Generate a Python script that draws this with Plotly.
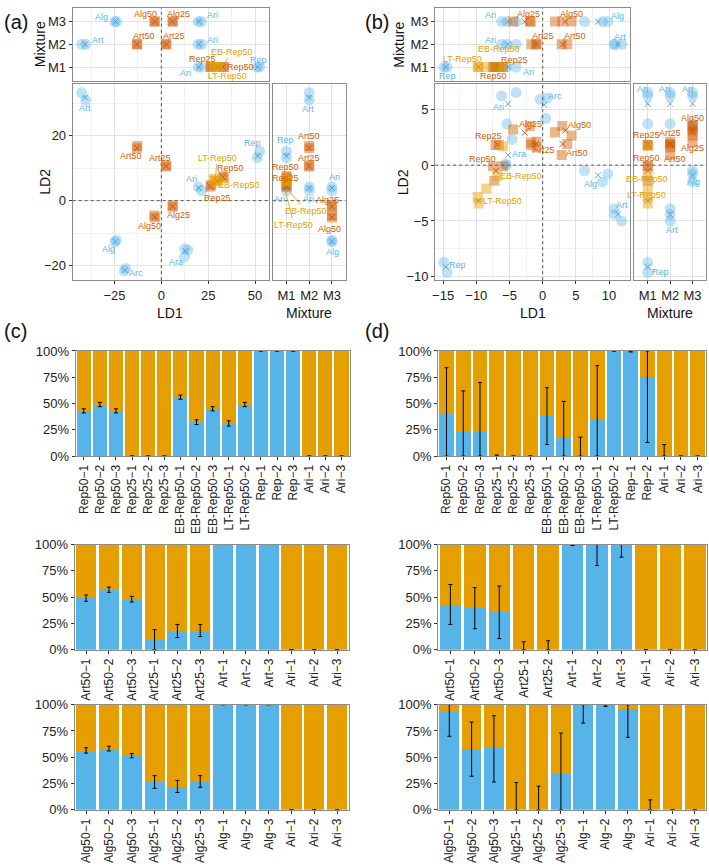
import plotly.graph_objects as go

W, H = 709, 866

# ---------------- Panel (a): canonical discriminant scores ----------------
A_GROUP = ["Art", "Rep", "Ari", "Alg", "Arc", "Ara", "Art50", "Art25", "Alg50", "Alg25",
           "Rep50", "Rep25", "LT-Rep50", "EB-Rep50"]
A_KIND = ["ref", "ref", "ref", "ref", "ref", "ref", "mix", "mix", "mix", "mix", "mix", "mix", "trt", "trt"]
A_MIX = [["M2"], ["M1"], ["M1", "M2", "M3"], ["M3"], [], [], ["M2"], ["M2"], ["M3"], ["M3"],
         ["M1"], ["M1"], ["M1"], ["M1"]]
A_LD1 = [[-42.5, -40.3], [52.5, 51.2], [19.7, 21.4], [-23.9, -24.8], [-19.0, -19.8], [12.4, 14.2, 12.4],
         [-12.8, -13.1], [2.7, 2.4], [-3.4, -3.8], [5.9, 6.2], [32.8, 33.5], [26.2, 26.5], [28.0, 28.5], [29.8, 30.2]]
A_LD2 = [[33.2, 30.9], [15.2, 13.2], [4.2, 3.1], [-12.2, -12.7], [-20.9, -21.6], [-14.8, -15.2, -17.3],
         [16.8, 16.1], [10.5, 10.8], [-5.2, -4.6], [-1.9, -1.5], [7.5, 7.2], [4.3, 4.8], [6.7, 6.2], [6.2, 5.8]]
A_CX = [-40.6, 51.4, 20.0, -24.5, -19.5, 12.8, -13.0, 2.6, -3.5, 6.0, 32.8, 26.2, 28.2, 30.0]
A_CY = [31.7, 13.7, 3.9, -12.6, -21.4, -15.5, 16.2, 10.6, -5.1, -1.8, 7.3, 4.4, 6.5, 6.0]

# ---------------- Panel (b) ----------------
B_GROUP = ["Ari", "Arc", "Ara", "Rep", "Alg", "Art", "Rep25", "Rep50", "EB-Rep50", "LT-Rep50",
           "Alg25", "Art25", "Alg50", "Art50"]
B_KIND = ["ref", "ref", "ref", "ref", "ref", "ref", "mix", "mix", "trt", "trt", "mix", "mix", "mix", "mix"]
B_MIX = [["M1", "M2", "M3"], [], [], ["M1"], ["M3"], ["M2"], ["M1"], ["M1"], ["M1"], ["M1"],
         ["M3"], ["M2"], ["M3"], ["M2"]]
B_LD1 = [[-6.2, -4.0, -5.4], [-0.4, 0.7, 0.45], [-4.6, -5.6, -5.5], [-14.9, -14.4], [6.3, 9.8, 9.0],
         [10.8, 10.8, 11.9], [-7.1, -6.6], [-7.5, -6.0, -7.3], [-8.5, -6.0, -6.8], [-9.8, -9.65],
         [-4.45, -1.95, -1.8], [-0.95, -1.7, -0.95], [2.95, 1.85, 4.35], [3.7, 2.85]]
B_LD2 = [[6.2, 6.5, 3.7], [5.9, 6.0, 4.2], [2.3, 0.1, 0.0], [-8.7, -9.6], [-0.5, -0.8, -1.5],
         [-3.9, -4.4, -5.0], [1.8, 1.8], [-0.1, -0.1, -1.4], [-2.1, 1.7, -1.0], [-2.85, -3.44],
         [3.2, 3.5, 2.0], [2.1, 1.8, 1.6], [3.5, 2.95, 2.65], [1.9, 0.9]]
B_CX = [-5.2, 0.2, -5.2, -14.6, 8.35, 11.35, -6.8, -7.0, -7.1, -9.7, -2.7, -1.0, 3.4, 3.0]
B_CY = [5.5, 5.4, 0.9, -9.1, -0.9, -4.4, 1.85, -0.5, -0.5, -3.2, 2.9, 1.9, 3.1, 1.9]

# ---------------- point labels (text, x, y, kind[, arrow target x, y]) ----------------
A_MAIN_LAB = [("Art", -40.6, 28.6, "ref"), ("Rep", 48.4, 17.8, "ref"), ("Ari", 16.0, 6.7, "ref"),
              ("Alg", -28.2, -15.0, "ref"), ("Arc", -13.7, -22.3, "ref"), ("Ara", 8.0, -18.8, "ref"),
              ("Art50", -16.3, 13.7, "mix"), ("Art25", -0.9, 13.1, "mix"), ("Alg25", 9.4, -4.5, "mix"),
              ("Alg50", -6.5, -7.8, "mix"), ("Rep50", 36.9, 10.0, "mix"), ("Rep25", 30.0, 0.8, "mix"),
              ("LT-Rep50", 29.8, 13.2, "trt", 28.9, 7.1), ("EB-Rep50", 41.5, 4.7, "trt")]
A_TOP_LAB = [("Alg", -31.9, 3.2, "ref"), ("Alg50", -8.3, 3.34, "mix"), ("Alg25", 9.4, 3.34, "mix"),
             ("Ari", 27.1, 3.27, "ref"), ("Art", -33.7, 2.21, "ref"), ("Art50", -9.2, 2.38, "mix"),
             ("Art25", 6.7, 2.38, "mix"), ("Ari", 27.1, 2.21, "ref"), ("Rep25", 21.8, 1.37, "mix"),
             ("EB-Rep50", 37.8, 1.68, "trt", 33.9, 1.2), ("Rep50", 42.0, 0.99, "mix"),
             ("Rep", 52.0, 1.3, "ref"), ("LT-Rep50", 35.1, 0.6, "trt"), ("Ari", 12.9, 0.76, "ref")]
A_SIDE_LAB = [("Rep", 0.96, 18.6, "ref"), ("Rep50", 0.96, 10.3, "mix"), ("Rep25", 0.96, 7.0, "mix"),
              ("Ari", 0.71, 0.4, "ref"), ("EB-Rep50", 1.84, -3.2, "trt", 1.05, 3.5),
              ("LT-Rep50", 1.33, -7.4, "trt", 0.93, 3.5), ("Art", 1.95, 28.1, "ref"),
              ("Art50", 2.0, 19.8, "mix"), ("Art25", 2.0, 13.0, "mix"), ("Ari", 1.96, 0.4, "ref"),
              ("Ari", 3.13, 7.2, "ref"), ("Alg25", 2.8, 0.3, "mix"), ("Alg50", 2.91, -8.7, "mix"),
              ("Alg", 3.03, -15.8, "ref")]
B_MAIN_LAB = [("Arc", 1.8, 6.2, "ref"), ("Ari", -6.6, 5.2, "ref"), ("Alg25", -1.9, 3.7, "mix"),
              ("Alg50", 5.6, 3.6, "mix"), ("Rep25", -8.1, 2.65, "mix"), ("Art25", 0.2, 1.35, "mix"),
              ("Art50", 5.2, 1.06, "mix"), ("Ara", -3.6, 0.97, "ref"), ("Rep50", -9.0, 0.53, "mix"),
              ("EB-Rep50", -3.2, -1.0, "trt"), ("Alg", 7.2, -1.7, "ref"), ("LT-Rep50", -6.0, -3.2, "trt"),
              ("Art", 11.95, -3.6, "ref"), ("Rep", -12.9, -8.95, "ref")]
B_TOP_LAB = [("Ari", -7.9, 3.3, "ref"), ("Alg25", -2.15, 3.34, "mix"), ("Alg50", 4.35, 3.34, "mix"),
             ("Alg", 11.2, 3.23, "ref"), ("Ari", -7.9, 2.21, "ref"), ("Art25", 0.05, 2.35, "mix"),
             ("Art50", 4.8, 2.35, "mix"), ("Art", 11.6, 2.32, "ref"), ("LT-Rep50", -12.1, 1.37, "trt"),
             ("EB-Rep50", -6.6, 1.8, "trt"), ("Rep25", -4.3, 1.3, "mix", -6.9, 1.12),
             ("Rep50", -7.45, 0.6, "mix"), ("Ari", -2.15, 0.8, "ref"), ("Rep", -14.3, 0.6, "ref")]
B_SIDE_LAB = [("Ari", 0.75, 6.86, "ref"), ("Ari", 1.73, 6.86, "ref"), ("Ari", 2.76, 6.86, "ref"),
              ("Alg50", 3.0, 4.2, "mix"), ("Rep25", 0.96, 2.74, "mix"), ("Art25", 2.01, 2.9, "mix"),
              ("Alg25", 3.0, 1.56, "mix"), ("Rep50", 0.96, 0.68, "mix"), ("Art50", 2.2, 0.53, "mix"),
              ("EB-Rep50", 0.96, -1.24, "trt"), ("Alg", 3.04, -1.53, "ref"),
              ("LT-Rep50", 0.96, -2.7, "trt"), ("Art", 2.06, -5.8, "ref"), ("Rep", 1.59, -9.56, "ref")]

# ---------------- Panels (c) and (d): assignment proportions (%) ----------------
C1_LAB = ["Rep50−1", "Rep50−2", "Rep50−3", "Rep25−1", "Rep25−2", "Rep25−3", "EB-Rep50−1", "EB-Rep50−2",
          "EB-Rep50−3", "LT-Rep50−1", "LT-Rep50−2", "Rep−1", "Rep−2", "Rep−3", "Ari−1", "Ari−2", "Ari−3"]
C1_BLUE = [43, 49, 43, 0, 0, 0, 56, 32, 45, 31, 49, 100, 100, 100, 0, 0, 0]
C1_LO = [41, 47, 41, 0, 0, 0, 54, 30, 43, 28.5, 47, 100, 100, 100, 0, 0, 0]
C1_HI = [45, 51, 45, 0, 0, 0, 58, 34.5, 47, 33.5, 51, 100, 100, 100, 0, 0, 0]

D1_LAB = ["Rep50−1", "Rep50−2", "Rep50−3", "Rep25−1", "Rep25−2", "Rep25−3", "EB-Rep50−1", "EB-Rep50−2",
          "EB-Rep50−3", "LT-Rep50−1", "LT-Rep50−2", "Rep−1", "Rep−2", "Ari−1", "Ari−2", "Ari−3"]
D1_BLUE = [40, 23, 23, 0, 0, 0, 38, 17, 0, 35, 100, 100, 75, 0, 0, 0]
D1_LO = [0, 0, 0, 0, 0, 0, 11, 0, 0, 0, 100, 99, 13, 0, 0, 0]
D1_HI = [84, 62, 70, 1, 0, 0, 65, 52, 18, 86, 100, 100, 100, 11, 0, 0]

C2_LAB = ["Art50−1", "Art50−2", "Art50−3", "Art25−1", "Art25−2", "Art25−3", "Art−1", "Art−2", "Art−3",
          "Ari−1", "Ari−2", "Ari−3"]
C2_BLUE = [49, 57, 48, 9, 17.5, 18, 100, 100, 100, 0, 0, 0]
C2_LO = [46, 54.5, 45.3, 0, 11.5, 12.5, 100, 100, 100, 0, 0, 0]
C2_HI = [52, 59.5, 50.7, 19, 24, 24, 100, 100, 100, 0, 0, 0]

D2_LAB = ["Art50−1", "Art50−2", "Art50−3", "Art25-1", "Art25-2", "Art−1", "Art−2", "Art−3",
          "Ari−1", "Ari−2", "Ari−3"]
D2_BLUE = [42.5, 39.5, 35.5, 0, 0, 100, 100, 100, 0, 0, 0]
D2_LO = [24, 20, 10.5, 0, 0, 99, 80, 88, 0, 0, 0]
D2_HI = [62, 59, 60.5, 7.5, 8.5, 100, 100, 100, 0, 0, 0]

C3_LAB = ["Alg50−1", "Alg50−2", "Alg50−3", "Alg25−1", "Alg25−2", "Alg25−3", "Alg−1", "Alg−2", "Alg−3",
          "Ari−1", "Ari−2", "Ari−3"]
C3_BLUE = [56, 58, 51, 26.5, 22, 26.5, 100, 100, 100, 0, 0, 0]
C3_LO = [54, 56, 49.5, 20.5, 16.5, 21.5, 100, 100, 100, 0, 0, 0]
C3_HI = [59, 60.5, 53.5, 32.5, 28, 32.5, 100, 100, 100, 0, 0, 0]

D3_LAB = C3_LAB
D3_BLUE = [93, 57.5, 58.5, 0, 0, 34, 100, 100, 96, 0, 0, 0]
D3_LO = [70, 32, 26.5, 0, 0, 0, 82.5, 98.5, 69, 0, 0, 0]
D3_HI = [100, 83.5, 89.5, 26, 22.5, 73, 100, 100, 100, 9.5, 0, 0]

MIX_NAMES = ["M1", "M2", "M3"]
PCT_TICKS = [0, 25, 50, 75, 100]

# ---------------- styling ----------------
FONT = "Liberation Sans, Arial, Helvetica, sans-serif"
BLUE = "#56B4E9"
VERM = "#D55E00"
YEL = "#E69F00"
BAR_BLUE = "#56B4E9"
BAR_ORANGE = "#E69F00"
BORDER = "#8c8c8c"
GRID = "#e3e3e3"
MINOR = "#f1f1f1"
FILL = {"ref": "rgba(86,180,233,0.38)", "mix": "rgba(213,94,0,0.45)", "trt": "rgba(230,159,0,0.45)"}
XCOL = {"ref": "#4a9fd6", "mix": "#b9561a", "trt": "#c98a00"}
TCOL = {"ref": BLUE, "mix": VERM, "trt": YEL}
SYM = {"ref": "circle", "mix": "square", "trt": "square"}
SIZE = {"ref": 11, "mix": 10, "trt": 10}
MIXV = {m: i + 1 for i, m in enumerate(MIX_NAMES)}

# pixel boxes for each subplot: (x0, x1), (y0, y1) from top
BOX = {
    1: ((70, 267), (78, 278)), 2: ((70, 267), (1, 75)), 3: ((271, 344), (78, 278)),
    4: ((434, 630), (78, 278)), 5: ((434, 630), (1, 75)), 6: ((634, 706), (78, 278)),
    7: ((73, 348), (350, 457)), 8: ((437, 706), (350, 457)),
    9: ((72, 347), (547, 654)), 10: ((437, 707), (547, 654)),
    11: ((72, 347), (710, 817)), 12: ((437, 706), (710, 817)),
}


def xr(i):
    return "x" if i == 1 else f"x{i}"


def yr(i):
    return "y" if i == 1 else f"y{i}"


def xkey(i):
    return "xaxis" if i == 1 else f"xaxis{i}"


def ykey(i):
    return "yaxis" if i == 1 else f"yaxis{i}"


fig = go.Figure()
layout = dict(width=W, height=H, autosize=False, margin=dict(l=0, r=0, t=0, b=0),
              paper_bgcolor="white", plot_bgcolor="white", showlegend=False,
              barmode="stack", font=dict(family=FONT, color="#222"))


def base_axis(i, is_x, **kw):
    (x0, x1), (y0, y1) = BOX[i]
    dom = [x0 / W, x1 / W] if is_x else [1 - y1 / H, 1 - y0 / H]
    d = dict(domain=dom, anchor=(yr(i) if is_x else xr(i)), showline=True, mirror=True,
             linecolor=BORDER, linewidth=1, ticks="outside", ticklen=3, tickcolor="#333",
             tickwidth=1, zeroline=False, showgrid=False, fixedrange=True,
             tickfont=dict(size=13, color="#222", family=FONT))
    d.update(kw)
    return d


def grid_lin(rng, dtick, minor_dtick, labels=True):
    return dict(range=rng, tick0=0, dtick=dtick, showgrid=True, gridcolor=GRID, gridwidth=1,
                minor=dict(showgrid=True, gridcolor=MINOR, dtick=minor_dtick, tick0=0),
                showticklabels=labels, ticks="outside" if labels else "")


def grid_cat(labels=True):
    return dict(range=[0.4, 3.6], tickvals=[1, 2, 3], ticktext=MIX_NAMES, showgrid=True,
                gridcolor=GRID, showticklabels=labels, ticks="outside" if labels else "")


def add_cda(im, it, isd, kinds, mixes, ld1, ld2, cx, cy):
    for k, m, l1, l2, x0, y0 in zip(kinds, mixes, ld1, ld2, cx, cy):
        pts = dict(mode="markers", hoverinfo="skip",
                   marker=dict(symbol=SYM[k], size=SIZE[k], color=FILL[k], line=dict(width=0)))
        cen = dict(mode="markers", hoverinfo="skip",
                   marker=dict(symbol="x-thin", size=6, color=XCOL[k], line=dict(width=0.9, color=XCOL[k])))
        fig.add_trace(go.Scatter(x=l1, y=l2, xaxis=xr(im), yaxis=yr(im), **pts))
        fig.add_trace(go.Scatter(x=[x0], y=[y0], xaxis=xr(im), yaxis=yr(im), **cen))
        for mm in m:
            v = MIXV[mm]
            fig.add_trace(go.Scatter(x=l1, y=[v] * len(l1), xaxis=xr(it), yaxis=yr(it), **pts))
            fig.add_trace(go.Scatter(x=[x0], y=[v], xaxis=xr(it), yaxis=yr(it), **cen))
            fig.add_trace(go.Scatter(x=[v] * len(l2), y=l2, xaxis=xr(isd), yaxis=yr(isd), **pts))
            fig.add_trace(go.Scatter(x=[v], y=[y0], xaxis=xr(isd), yaxis=yr(isd), **cen))


def add_labels(i, labs):
    for lab in labs:
        text, x, y, k = lab[:4]
        f = dict(size=9, color=TCOL[k], family=FONT)
        if len(lab) > 4:
            fig.add_annotation(x=lab[4], y=lab[5], ax=x, ay=y, axref=xr(i), ayref=yr(i),
                               xref=xr(i), yref=yr(i), text=text, showarrow=True, arrowhead=0,
                               arrowwidth=0.8, arrowcolor=TCOL[k], standoff=0, font=f)
        else:
            fig.add_annotation(x=x, y=y, xref=xr(i), yref=yr(i), text=text, showarrow=False, font=f)


def dotted(i, vertical, val):
    ln = dict(color="#555", width=1, dash="dot")
    if vertical:
        fig.add_shape(type="line", xref=xr(i), yref=f"{yr(i)} domain", x0=val, x1=val, y0=0, y1=1,
                      line=ln, layer="above")
    else:
        fig.add_shape(type="line", xref=f"{xr(i)} domain", yref=yr(i), x0=0, x1=1, y0=val, y1=val,
                      line=ln, layer="above")


# ----- panel (a)
A_XR = [-47.3, 57.4]
A_YR = [-24.5, 36.0]
layout[xkey(1)] = base_axis(1, True, **grid_lin(A_XR, 25, 12.5))
layout[ykey(1)] = base_axis(1, False, **grid_lin(A_YR, 20, 10))
layout[xkey(2)] = base_axis(2, True, **grid_lin(A_XR, 25, 12.5, labels=False))
layout[ykey(2)] = base_axis(2, False, **grid_cat())
layout[xkey(3)] = base_axis(3, True, **grid_cat())
layout[ykey(3)] = base_axis(3, False, **grid_lin(A_YR, 20, 10, labels=False))
add_cda(1, 2, 3, A_KIND, A_MIX, A_LD1, A_LD2, A_CX, A_CY)

# ----- panel (b)
B_XR = [-16.2, 13.2]
B_YR = [-10.3, 7.3]
layout[xkey(4)] = base_axis(4, True, **grid_lin(B_XR, 5, 2.5))
layout[ykey(4)] = base_axis(4, False, **grid_lin(B_YR, 5, 2.5))
layout[xkey(5)] = base_axis(5, True, **grid_lin(B_XR, 5, 2.5, labels=False))
layout[ykey(5)] = base_axis(5, False, **grid_cat())
layout[xkey(6)] = base_axis(6, True, **grid_cat())
layout[ykey(6)] = base_axis(6, False, **grid_lin(B_YR, 5, 2.5, labels=False))
add_cda(4, 5, 6, B_KIND, B_MIX, B_LD1, B_LD2, B_CX, B_CY)

for i in (1, 4):
    dotted(i, True, 0)
    dotted(i, False, 0)
for i in (2, 5):
    dotted(i, True, 0)
for i in (3, 6):
    dotted(i, False, 0)

add_labels(1, A_MAIN_LAB)
add_labels(2, A_TOP_LAB)
add_labels(3, A_SIDE_LAB)
add_labels(4, B_MAIN_LAB)
add_labels(5, B_TOP_LAB)
add_labels(6, B_SIDE_LAB)


# ----- bar panels
def add_bars(i, labels, blue, lo, hi):
    xs = list(range(1, len(labels) + 1))
    fig.add_trace(go.Bar(x=xs, y=blue, width=0.88, marker=dict(color=BAR_BLUE, line=dict(width=0)),
                         xaxis=xr(i), yaxis=yr(i), hoverinfo="skip"))
    fig.add_trace(go.Bar(x=xs, y=[100 - b for b in blue], width=0.88,
                         marker=dict(color=BAR_ORANGE, line=dict(width=0)),
                         xaxis=xr(i), yaxis=yr(i), hoverinfo="skip"))
    fig.add_trace(go.Scatter(x=xs, y=blue, mode="markers", marker=dict(size=2, opacity=0),
                             error_y=dict(type="data", symmetric=False,
                                          array=[h - b for h, b in zip(hi, blue)],
                                          arrayminus=[b - l for b, l in zip(blue, lo)],
                                          color="black", thickness=1, width=2),
                             xaxis=xr(i), yaxis=yr(i), hoverinfo="skip"))
    layout[xkey(i)] = base_axis(i, True, range=[0.5, len(labels) + 0.5], tickvals=xs, ticktext=labels,
                                tickangle=-90, tickfont=dict(size=12, color="#222", family=FONT))
    layout[ykey(i)] = base_axis(i, False, range=[0, 100], tickvals=PCT_TICKS,
                                ticktext=[f"{t}%" for t in PCT_TICKS])


add_bars(7, C1_LAB, C1_BLUE, C1_LO, C1_HI)
add_bars(8, D1_LAB, D1_BLUE, D1_LO, D1_HI)
add_bars(9, C2_LAB, C2_BLUE, C2_LO, C2_HI)
add_bars(10, D2_LAB, D2_BLUE, D2_LO, D2_HI)
add_bars(11, C3_LAB, C3_BLUE, C3_LO, C3_HI)
add_bars(12, D3_LAB, D3_BLUE, D3_LO, D3_HI)


# ----- axis titles and panel letters
def ptext(text, x, y, size=14, angle=0):
    fig.add_annotation(x=x / W, y=1 - y / H, xref="paper", yref="paper", text=text, showarrow=False,
                       textangle=angle, font=dict(size=size, color="#111", family=FONT),
                       xanchor="center", yanchor="middle")


ptext("(a)", 13, 15, 20)
ptext("(b)", 376, 15, 20)
ptext("(c)", 13, 330, 20)
ptext("(d)", 376, 330, 20)
ptext("Mixture", 38, 38, 14, -90)
ptext("LD2", 42, 178, 14, -90)
ptext("LD1", 168, 311, 14)
ptext("Mixture", 307, 311, 14)
ptext("Mixture", 398, 38, 14, -90)
ptext("LD2", 402, 178, 14, -90)
ptext("LD1", 532, 311, 14)
ptext("Mixture", 670, 311, 14)

fig.update_layout(**layout)
fig.write_html("out.html")
